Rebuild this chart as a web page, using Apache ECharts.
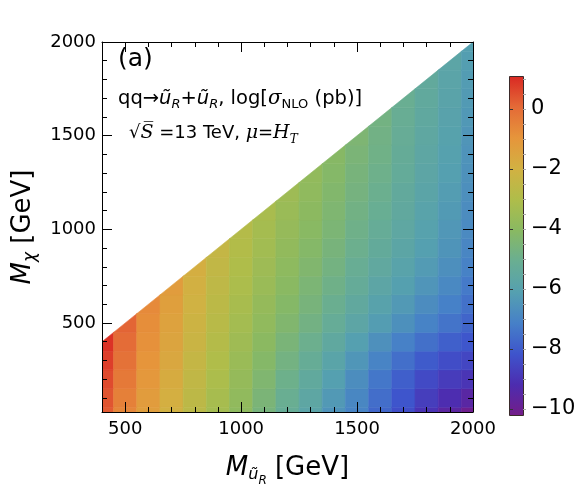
<!DOCTYPE html>
<html><head><meta charset="utf-8">
<script src="https://cdn.jsdelivr.net/npm/echarts@6/dist/echarts.min.js"></script>
<style>html,body{margin:0;padding:0;background:#fff}#c{width:581px;height:502px}</style>
</head><body><div id="c"></div>
<script>
// log[sigma_NLO (pb)]; one array per M_uR column (GeV), rows M_chi = 0,100,...,M_uR
const mColumns = [400,500,600,700,800,900,1000,1100,1200,1300,1400,1500,1600,1700,1800,1900,2000];
const c400 = [0.3, 0.4, 0.55, 0.75, 0.95];
const c500 = [-0.6, -0.45, -0.28, -0.12, 0.02, 0.15];
const c600 = [-1.3, -1.2, -1.06, -0.95, -0.86, -0.78, -0.7];
const c700 = [-2.0, -1.9, -1.76, -1.63, -1.52, -1.42, -1.32, -1.22];
const c800 = [-2.7, -2.62, -2.5, -2.38, -2.26, -2.15, -2.05, -1.96, -1.88];
const c900 = [-3.3, -3.22, -3.1, -2.98, -2.86, -2.75, -2.66, -2.57, -2.48, -2.4];
const c1000 = [-3.9, -3.82, -3.7, -3.57, -3.43, -3.3, -3.2, -3.1, -3.01, -2.93, -2.85];
const c1100 = [-4.6, -4.48, -4.33, -4.16, -3.99, -3.82, -3.7, -3.58, -3.47, -3.37, -3.27, -3.17];
const c1200 = [-5.2, -5.08, -4.92, -4.72, -4.51, -4.3, -4.15, -4.02, -3.9, -3.79, -3.68, -3.57, -3.47];
const c1300 = [-5.8, -5.65, -5.45, -5.2, -4.97, -4.75, -4.58, -4.44, -4.3, -4.17, -4.05, -3.95, -3.86, -3.78];
const c1400 = [-6.5, -6.32, -6.1, -5.82, -5.52, -5.22, -5.02, -4.86, -4.7, -4.57, -4.45, -4.35, -4.26, -4.17, -4.09];
const c1500 = [-7.0, -6.88, -6.7, -6.42, -6.08, -5.7, -5.47, -5.27, -5.12, -4.98, -4.87, -4.76, -4.66, -4.57, -4.48, -4.4];
const c1600 = [-7.7, -7.55, -7.33, -7.0, -6.6, -6.18, -5.92, -5.7, -5.5, -5.35, -5.22, -5.1, -5.0, -4.91, -4.83, -4.78, -4.73];
const c1700 = [-8.3, -8.12, -7.88, -7.52, -7.08, -6.62, -6.32, -6.07, -5.87, -5.72, -5.6, -5.49, -5.4, -5.32, -5.25, -5.19, -5.13, -5.08];
const c1800 = [-9.0, -8.72, -8.4, -7.98, -7.5, -7.02, -6.72, -6.46, -6.25, -6.1, -5.98, -5.87, -5.78, -5.7, -5.63, -5.57, -5.51, -5.45, -5.4];
const c1900 = [-9.55, -9.15, -8.75, -8.32, -7.86, -7.4, -7.1, -6.84, -6.63, -6.49, -6.38, -6.27, -6.18, -6.1, -6.03, -5.97, -5.91, -5.85, -5.8, -5.75];
const c2000 = [-10.05, -9.5, -8.95, -8.5, -8.1, -7.75, -7.48, -7.25, -7.05, -6.92, -6.8, -6.72, -6.65, -6.58, -6.5, -6.43, -6.35, -6.28, -6.21, -6.15, -6.1];
const columnValues = [c400,c500,c600,c700,c800,c900,c1000,c1100,c1200,c1300,c1400,c1500,c1600,c1700,c1800,c1900,c2000];
const mChiStep = 100;

const xRange = [400, 2000];
const yRange = [25, 2000];
const xMajorTicks = [500, 1000, 1500, 2000];
const xMinorTicks = [500,600,700,800,900,1000,1100,1200,1300,1400,1500,1600,1700,1800,1900];
const yMajorTicks = [500, 1000, 1500, 2000];
const yMinorTicks = [100,200,300,400,500,600,700,800,900,1000,1100,1200,1300,1400,1500,1600,1700,1800,1900];
const cbRange = [-10.2, 1.1];
const cbMajorTicks = [-10, -8, -6, -4, -2, 0];
const cbMinorTicks = [-10,-9.5,-9,-8.5,-8,-7.5,-7,-6.5,-6,-5.5,-5,-4.5,-4,-3.5,-3,-2.5,-2,-1.5,-1,-0.5,0,0.5,1];
const palette = ['#741d88','#4d2caf','#3e54cc','#4680c8','#55a0b0','#69ae92','#89b962','#afbd4a','#d2b142','#e6953b','#e46a37','#d92823'];

const data = [];
mColumns.forEach((mx, i) => {
  columnValues[i].forEach((v, j) => data.push([mx, j * mChiStep, v]));
});

const FONT = 'DejaVu Sans';
const half = mChiStep / 2;
function renderItem(params, api) {
  const x = api.value(0), y = api.value(1);
  const color = api.visual('color');
  const style = {fill: color, stroke: color, lineWidth: 0.6};
  if (y >= x) {
    return {type: 'polygon', shape: {points: [api.coord([x - half, y - half]), api.coord([x + half, y - half]), api.coord([x + half, y + half])]}, style};
  }
  const p = api.coord([x - half, y + half]);
  const s = api.size([2 * half, 2 * half]);
  return {type: 'rect', shape: {x: p[0], y: p[1], width: s[0], height: s[1]}, style};
}

const tickLine = {lineStyle: {color: '#000', width: 1}};
const plain = v => String(v);
function ax(extra) { return Object.assign({type: 'value', gridIndex: 0, splitLine: {show: false}, axisLine: {show: true, onZero: false, lineStyle: {color: '#000', width: 1}}}, extra); }
const minus = v => v < 0 ? '\u2212' + (-v) : String(v);

const cbBox = {left: 509, top: 76, width: 14, height: 339};
const cbStops = palette.map((c, i) => ({offset: 1 - i / (palette.length - 1), color: c}));

const chart = echarts.init(document.getElementById('c'), null, {renderer: 'canvas'});
chart.setOption({
  animation: false,
  backgroundColor: '#fff',
  grid: [
    {left: 102, top: 42, width: 371, height: 370},
    {left: cbBox.left, top: cbBox.top, width: cbBox.width, height: cbBox.height}
  ],
  xAxis: [
    ax({position: 'bottom', min: xRange[0], max: xRange[1], z: 10,
      axisTick: Object.assign({inside: true, length: 10, customValues: xMajorTicks}, tickLine),
      axisLabel: {customValues: xMajorTicks, fontFamily: FONT, fontSize: 18, color: '#000', margin: 8, formatter: plain},
      name: '{i|M}{s1|ũ}{s2|R}{n| [GeV]}', nameLocation: 'middle', nameGap: 37,
      nameTextStyle: {rich: {
        i: {fontFamily: FONT, fontStyle: 'italic', fontSize: 26, color: '#000'},
        s1: {fontFamily: FONT, fontStyle: 'italic', fontSize: 16, color: '#000', padding: [14, 0, 0, 0]},
        s2: {fontFamily: FONT, fontStyle: 'italic', fontSize: 12, color: '#000', padding: [26, 0, 0, 0]},
        n: {fontFamily: FONT, fontSize: 26, color: '#000'}
      }}}),
    ax({position: 'bottom', min: xRange[0], max: xRange[1], z: 10, axisLine: {show: false},
      axisTick: Object.assign({inside: true, length: 5, customValues: xMinorTicks}, tickLine), axisLabel: {show: false}}),
    ax({position: 'top', min: xRange[0], max: xRange[1], z: 10,
      axisTick: Object.assign({inside: true, length: 10, customValues: xMajorTicks}, tickLine), axisLabel: {show: false}}),
    ax({position: 'top', min: xRange[0], max: xRange[1], z: 10, axisLine: {show: false},
      axisTick: Object.assign({inside: true, length: 5, customValues: xMinorTicks}, tickLine), axisLabel: {show: false}}),
    ax({gridIndex: 1, position: 'bottom', min: 0, max: 1, show: false})
  ],
  yAxis: [
    ax({position: 'left', min: yRange[0], max: yRange[1], z: 10,
      axisTick: Object.assign({inside: true, length: 10, customValues: yMajorTicks}, tickLine),
      axisLabel: {customValues: yMajorTicks, fontFamily: FONT, fontSize: 18, color: '#000', margin: 6, formatter: plain},
      name: '{i|M}{s1|χ}{n| [GeV]}', nameLocation: 'middle', nameGap: 60,
      nameTextStyle: {rich: {
        i: {fontFamily: FONT, fontStyle: 'italic', fontSize: 26, color: '#000'},
        s1: {fontFamily: FONT, fontStyle: 'italic', fontSize: 17, color: '#000', padding: [16, 0, 0, 0]},
        n: {fontFamily: FONT, fontSize: 26, color: '#000'}
      }}}),
    ax({position: 'left', min: yRange[0], max: yRange[1], z: 10, axisLine: {show: false},
      axisTick: Object.assign({inside: true, length: 5, customValues: yMinorTicks}, tickLine), axisLabel: {show: false}}),
    ax({position: 'right', min: yRange[0], max: yRange[1], z: 10,
      axisTick: Object.assign({inside: true, length: 10, customValues: yMajorTicks}, tickLine), axisLabel: {show: false}}),
    ax({position: 'right', min: yRange[0], max: yRange[1], z: 10, axisLine: {show: false},
      axisTick: Object.assign({inside: true, length: 5, customValues: yMinorTicks}, tickLine), axisLabel: {show: false}}),
    ax({gridIndex: 1, position: 'right', min: cbRange[0], max: cbRange[1], z: 10,
      axisLine: {show: false},
      axisTick: {inside: false, length: 4, customValues: cbMajorTicks, lineStyle: {color: '#333', width: 1}},
      axisLabel: {customValues: cbMajorTicks, fontFamily: FONT, fontSize: 21, color: '#000', margin: 8, formatter: minus}}),
    ax({gridIndex: 1, position: 'right', min: cbRange[0], max: cbRange[1], z: 9, axisLine: {show: false},
      axisTick: {inside: false, length: 3, customValues: cbMinorTicks, lineStyle: {color: '#aaa', width: 1}}, axisLabel: {show: false}})
  ],
  visualMap: {
    type: 'continuous', min: cbRange[0], max: cbRange[1], dimension: 2, seriesIndex: 0,
    show: false, inRange: {color: palette}
  },
  series: [{
    type: 'custom', coordinateSystem: 'cartesian2d', xAxisIndex: 0, yAxisIndex: 0,
    clip: true, renderItem: renderItem, data: data, z: 2
  }],
  graphic: [
    {type: 'rect', left: cbBox.left, top: cbBox.top, z: 5,
      shape: {width: cbBox.width, height: cbBox.height},
      style: {fill: new echarts.graphic.LinearGradient(0, 0, 0, 1, cbStops.slice().reverse()), stroke: '#3a2a2a', lineWidth: 1}},
    {type: 'text', left: 118, top: 47, z: 20, style: {text: '(a)', font: '25px "DejaVu Sans"', fill: '#000'}},
    {type: 'text', left: 118, top: 89, z: 20, style: {
      text: '{n|qq→}{i|ũ}{s|R}{n|+}{i|ũ}{s|R}{n|, log[}{g|σ}{t|NLO}{n| (pb)]}',
      rich: {
        n: {fontFamily: FONT, fontSize: 19.5, fill: '#000'},
        i: {fontFamily: FONT, fontStyle: 'italic', fontSize: 19.5, fill: '#000'},
        g: {fontFamily: 'DejaVu Serif', fontStyle: 'italic', fontSize: 20, fill: '#000'},
        s: {fontFamily: FONT, fontStyle: 'italic', fontSize: 13, fill: '#000', padding: [12, 0, 0, 0]},
        t: {fontFamily: FONT, fontSize: 13, fill: '#000', padding: [12, 0, 0, 0]}
      }}},
    {type: 'text', left: 129, top: 124, z: 20, style: {
      text: '{n|√}{g|S\u0305}{n| =13 TeV, }{g|μ}{n|=}{g|H}{s|T}',
      rich: {
        n: {fontFamily: FONT, fontSize: 18, fill: '#000'},
        g: {fontFamily: 'DejaVu Serif', fontStyle: 'italic', fontSize: 19, fill: '#000'},
        s: {fontFamily: 'DejaVu Serif', fontStyle: 'italic', fontSize: 12, fill: '#000', padding: [12, 0, 0, 0]}
      }}}
  ]
});
</script></body></html>
